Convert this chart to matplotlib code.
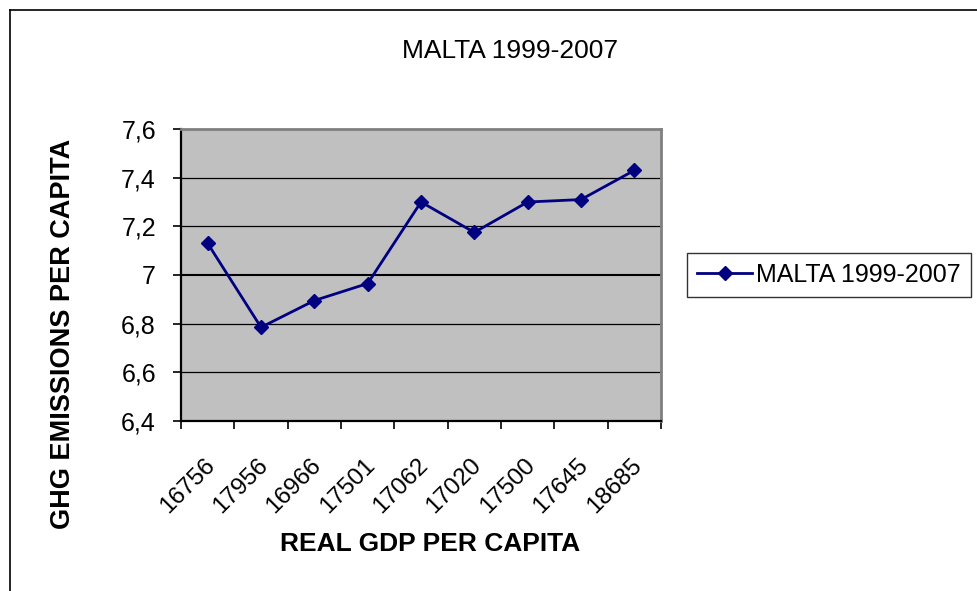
import matplotlib
matplotlib.use("Agg")
import matplotlib.pyplot as plt
from matplotlib.lines import Line2D
from matplotlib.transforms import ScaledTranslation
import numpy as np

plt.rcParams['font.family'] = ['Liberation Sans', 'DejaVu Sans']

# Data
gdp_labels = ["16756", "17956", "16966", "17501", "17062", "17020", "17500", "17645", "18685"]
ghg_values = [7.13, 6.785, 6.895, 6.965, 7.30, 7.175, 7.30, 7.31, 7.43]
series_name = "MALTA 1999-2007"
y_ticks = [6.4, 6.6, 6.8, 7.0, 7.2, 7.4, 7.6]
y_tick_labels = ["6,4", "6,6", "6,8", "7", "7,2", "7,4", "7,6"]

W, H = 978, 591
fig = plt.figure(figsize=(W / 100, H / 100), dpi=100)
fig.patch.set_facecolor("white")

ax = fig.add_axes([181 / W, 1 - 421 / H, 480 / W, 292 / H])
ax.set_facecolor("#C0C0C0")

x = np.arange(len(gdp_labels))
ax.plot(x, ghg_values, color="#000080", linewidth=2.0, marker="D",
        markersize=7.5, markerfacecolor="#000080", markeredgecolor="#000080",
        label=series_name, zorder=4)

ax.set_xlim(-0.5, len(gdp_labels) - 0.5)
ax.set_ylim(y_ticks[0], y_ticks[-1])

# Gridlines
for yv in y_ticks[1:-1]:
    ax.axhline(yv, color="black", linewidth=1.5 if yv == 7.0 else 0.9, zorder=1)

# Y axis
ax.set_yticks(y_ticks)
ax.set_yticklabels(y_tick_labels, fontsize=18)
ax.tick_params(axis="y", direction="out", length=6, width=1.2, pad=12, colors="black")

# X axis: major ticks at boundaries, labels at centers
ax.set_xticks(np.arange(-0.5, len(gdp_labels), 1.0))
ax.set_xticklabels([])
ax.set_xticks(x, minor=True)
ax.set_xticklabels(gdp_labels, minor=True, rotation=45, ha="right", va="top",
                   rotation_mode="anchor", fontsize=17.5)
ax.tick_params(axis="x", which="major", direction="out", length=6, width=1.2)
ax.tick_params(axis="x", which="minor", length=0, pad=24)
shift = ScaledTranslation(-4 / 100, 0, fig.dpi_scale_trans)
for lbl in ax.get_xticklabels(minor=True):
    lbl.set_transform(lbl.get_transform() + shift)

for side in ["left", "bottom"]:
    ax.spines[side].set_color("black")
    ax.spines[side].set_linewidth(1.6)
for side in ["top", "right"]:
    ax.spines[side].set_color("#808080")
    ax.spines[side].set_linewidth(2.0)

# Title and axis labels
fig.text(510 / W, 1 - 51 / H, series_name, ha="center", va="center", fontsize=19)
fig.text(430 / W, 1 - 544 / H, "REAL GDP PER CAPITA", ha="center", va="center",
         fontsize=19, fontweight="bold")
fig.text(63 / W, 1 - 334 / H, "GHG EMISSIONS PER CAPITA", ha="center", va="center",
         rotation=90, fontsize=19.5, fontweight="bold")

# Legend
leg = fig.legend(loc="center", bbox_to_anchor=(829 / W, 1 - 275 / H),
                 fontsize=18, frameon=True, fancybox=False, edgecolor="black",
                 handlelength=2.2, handletextpad=0.15, borderpad=0.4)
leg.get_frame().set_linewidth(1.0)

# Chart-area frame lines
fig.add_artist(Line2D([9.5 / W, 1.0], [1 - 10 / H, 1 - 10 / H], color="black",
                      linewidth=1.2, transform=fig.transFigure))
fig.add_artist(Line2D([9.5 / W, 9.5 / W], [0.0, 1 - 10 / H], color="black",
                      linewidth=1.2, transform=fig.transFigure))

fig.savefig("out.png", dpi=100)
